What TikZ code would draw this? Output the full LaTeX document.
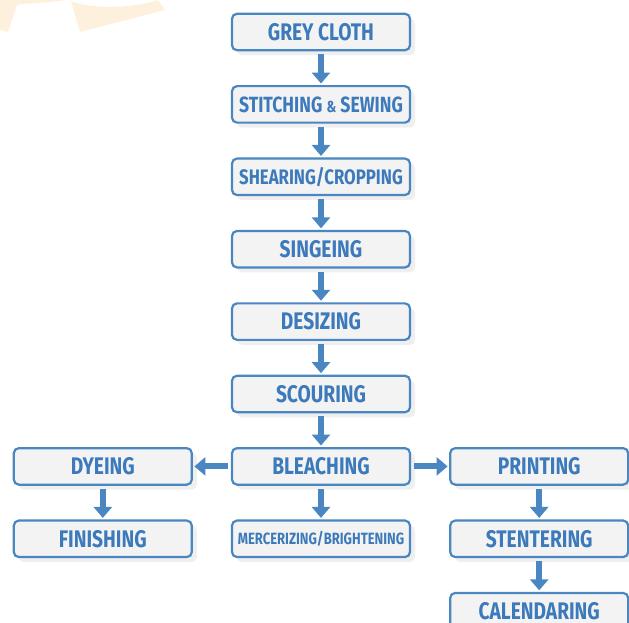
\documentclass[tikz,border=0pt]{standalone}
\usepackage{fontspec}
\setmainfont{Fira Sans}[FakeStretch=0.8]
\usepackage{tikz}
\usetikzlibrary{arrows.meta,positioning,shadows}

\definecolor{stepblue}{RGB}{74,134,193}
\definecolor{textblue}{RGB}{60,122,187}
\definecolor{stepfill}{RGB}{243,243,243}
\definecolor{markorange}{RGB}{253,241,222}

\tikzset{
  stepbox/.style={draw=stepblue, line width=2.2pt, fill=stepfill, rounded corners=5pt,
    minimum width=178pt, minimum height=36.5pt, inner sep=0pt, text=textblue,
    font=\fontsize{24}{24}\selectfont\bfseries,
    drop shadow={opacity=0.13, shadow xshift=5pt, shadow yshift=-5pt}},
  flow/.style={draw=stepblue, line width=6pt, shorten <=3pt, shorten >=1.5pt,
    -{Triangle[length=11pt,width=18pt]}}
}

\begin{document}
\begin{tikzpicture}[node distance=33.7pt and 38pt,>=Stealth]
    \useasboundingbox (0,0) rectangle (629pt,-623pt);
    % faint mark in the corner
    \begin{scope}[x=1pt,y=-1pt]
      \fill[markorange] (0,0) -- (66,0) .. controls (40,4) and (22,3) .. (17,5)
        -- (8,32) -- (0,30) -- cycle;
      \fill[markorange] (71,1) .. controls (90,9) and (130,9) .. (158,0)
        -- (165,10) -- (80,32) -- cycle;
    \end{scope}

    \node (grey) [stepbox] at (321pt,-32pt) {GREY CLOTH};
    \node (stitch) [stepbox, below=of grey, font=\fontsize{22}{22}\selectfont\bfseries]
      {STITCHING {\fontsize{16}{16}\selectfont\&} SEWING};
    \node (shear) [stepbox, below=of stitch, font=\fontsize{21}{21}\selectfont\bfseries]
      {SHEARING/CROPPING};
    \node (singe) [stepbox, below=of shear] {SINGEING};
    \node (desize) [stepbox, below=of singe] {DESIZING};
    \node (scour) [stepbox, below=of desize] {SCOURING};
    \node (bleach) [stepbox, below=of scour] {BLEACHING};
    \node (merc) [stepbox, below=of bleach, font=\fontsize{16.3}{16.3}\selectfont\bfseries]
      {MERCERIZING/BRIGHTENING};

    \node (dye) [stepbox, left=of bleach] {DYEING};
    \node (finish) [stepbox, below=of dye] {FINISHING};

    \node (print) [stepbox, right=of bleach] {PRINTING};
    \node (stenter) [stepbox, below=of print] {STENTERING};
    \node (calender) [stepbox, below=of stenter] {CALENDARING};

    \draw[flow] (grey) -- (stitch);
    \draw[flow] (stitch) -- (shear);
    \draw[flow] (shear) -- (singe);
    \draw[flow] (singe) -- (desize);
    \draw[flow] (desize) -- (scour);
    \draw[flow] (scour) -- (bleach);
    \draw[flow] (bleach) -- (merc);
    \draw[flow] (bleach) -- (dye);
    \draw[flow] (bleach) -- (print);
    \draw[flow] (dye) -- (finish);
    \draw[flow] (print) -- (stenter);
    \draw[flow] (stenter) -- (calender);
  \end{tikzpicture}
\end{document}
